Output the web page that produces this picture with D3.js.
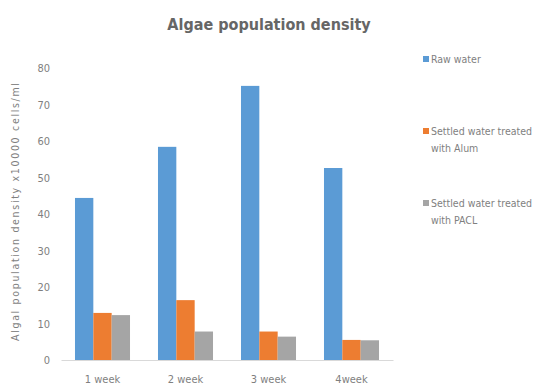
<!DOCTYPE html>
<html>
<head>
<meta charset="utf-8">
<script src="https://cdn.jsdelivr.net/npm/d3@7"></script>
<style>
  body { margin: 0; background: #fff; }
  text { font-family: "Liberation Sans Narrow", "DejaVu Sans Condensed", "Liberation Sans", sans-serif; }
</style>
</head>
<body>
<div id="chart"></div>
<script>
var weeks = ["1 week", "2 week", "3 week", "4week"];
var seriesNames = ["Raw water", "Settled water treated with Alum", "Settled water treated with PACL"];
var rawWater = [44.4, 58.4, 75.1, 52.6];
var alum = [12.9, 16.4, 7.8, 5.5];
var pacl = [12.3, 7.8, 6.4, 5.4];
var yTicks = [0, 10, 20, 30, 40, 50, 60, 70, 80];

var width = 537, height = 388;
var colors = ["#5b9bd5", "#ed7d31", "#a5a5a5"];
var values = [rawWater, alum, pacl];

var svg = d3.select("#chart").append("svg")
  .attr("width", width)
  .attr("height", height);

var x = d3.scaleBand().domain(weeks).range([61, 393]).paddingInner(0.337).paddingOuter(0.1685);
var xs = d3.scaleBand().domain(d3.range(3)).range([0, x.bandwidth()]);
var y = d3.scaleLinear().domain([0, 80]).range([360, 68]);

// title
svg.append("text")
  .attr("x", 269).attr("y", 30)
  .attr("text-anchor", "middle")
  .style("font-size", "16px")
  .style("font-weight", "bold")
  .style("fill", "#666")
  .text("Algae population  density");

// y axis labels
var yAxis = svg.append("g")
  .attr("transform", "translate(50,0)")
  .call(d3.axisLeft(y).tickValues(yTicks).tickSize(0).tickPadding(0));
yAxis.select(".domain").remove();
yAxis.selectAll("text").style("font-size", "11px").style("fill", "#7f7f7f");

svg.append("text")
  .attr("transform", "translate(19,212) rotate(-90)")
  .attr("text-anchor", "middle")
  .attr("textLength", 258)
  .attr("lengthAdjust", "spacing")
  .style("font-size", "10.5px")
  .style("fill", "#7f7f7f")
  .text("Algal population density x10000 cells/ml");

// bars
weeks.forEach(function(w, i) {
  var g = svg.append("g").attr("transform", "translate(" + x(w) + ",0)");
  g.selectAll("rect")
    .data(values.map(function(s) { return s[i]; }))
    .join("rect")
    .attr("x", function(d, j) { return xs(j); })
    .attr("y", function(d) { return y(d); })
    .attr("width", xs.bandwidth())
    .attr("height", function(d) { return y(0) - y(d); })
    .attr("fill", function(d, j) { return colors[j]; });
});

// x axis
var xAxis = svg.append("g")
  .attr("transform", "translate(0,360)")
  .call(d3.axisBottom(x).tickSize(0).tickPadding(15));
xAxis.select(".domain").attr("stroke", "#d9d9d9");
xAxis.selectAll("text").style("font-size", "11px").style("fill", "#7f7f7f");

// legend
var legendY = [59, 131, 203];
seriesNames.forEach(function(name, i) {
  var g = svg.append("g").attr("transform", "translate(423," + legendY[i] + ")");
  g.append("rect").attr("x", 0).attr("y", -3).attr("width", 6).attr("height", 6).attr("fill", colors[i]);
  var lines = i === 0 ? [name] : ["Settled water treated", name.replace("Settled water treated ", "")];
  lines.forEach(function(t, k) {
    g.append("text")
      .attr("x", 8).attr("y", 3.5 + k * 17)
      .style("font-size", "10.5px")
      .style("fill", "#7f7f7f")
      .text(t);
  });
});
</script>
</body>
</html>
